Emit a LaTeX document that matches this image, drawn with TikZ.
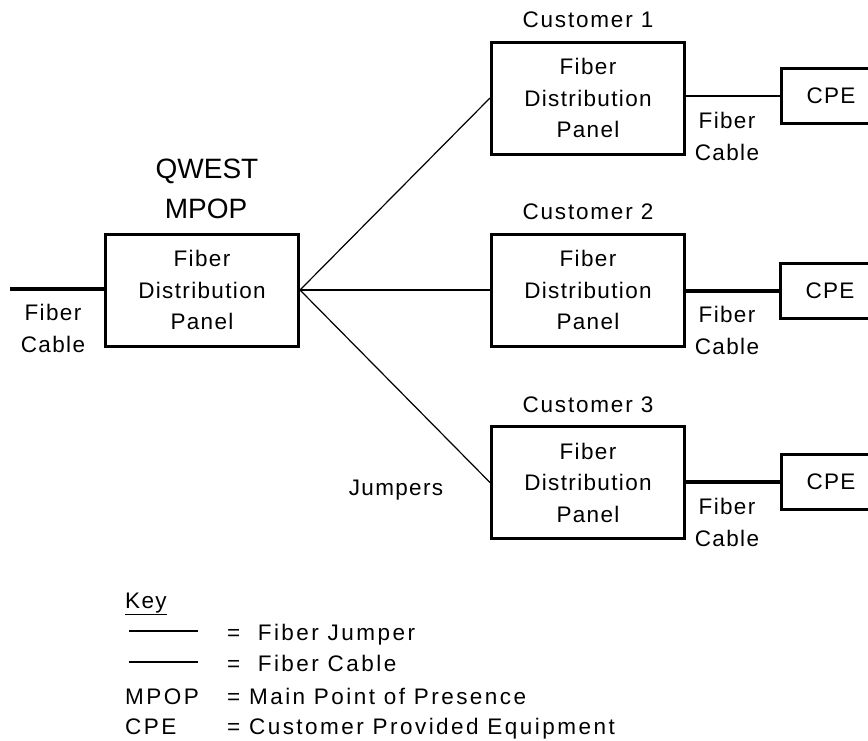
\documentclass[tikz,border=0pt]{standalone}
\usepackage{fontspec}
\setmainfont{Liberation Sans}[LetterSpace=6]
\newfontfamily\titlefont{Liberation Sans}
\newfontfamily\custfont{Liberation Sans}[LetterSpace=8]
\newfontfamily\legfont{Liberation Sans}[LetterSpace=11]
\begin{document}
\begin{tikzpicture}[x=1pt,y=-1pt,
  panel/.style={draw,line width=3pt,minimum width=193pt,minimum height=112pt,inner sep=0pt,align=center,
    font=\fontsize{22.5}{31.5}\selectfont},
  cpebox/.style={draw,line width=3pt,minimum width=100pt,minimum height=55pt,inner sep=0pt,
    font=\fontsize{22.5}{26}\selectfont},
  lbl/.style={inner sep=0pt,font=\fontsize{22.5}{32}\selectfont,align=center},
  custlbl/.style={inner sep=0pt,font=\custfont\fontsize{22.5}{32}\selectfont},
  leglbl/.style={inner sep=0pt,font=\legfont\fontsize{22.5}{32}\selectfont},
  ttl/.style={inner sep=0pt,font=\titlefont\fontsize{28}{40}\selectfont,align=center},
  jumper/.style={line width=1.2pt},
  cable/.style={line width=4pt},
  thincable/.style={line width=2pt}]
\useasboundingbox (0,0) rectangle (868,740);
\begin{scope}
\clip (0,0) rectangle (868,740);
% main panel
\node[panel] (mpop) at (202,290) {Fiber\\Distribution\\Panel};
\node[ttl,anchor=base] (qwest) at (207,178) {QWEST};
\node[ttl,anchor=base] (mpopt) at (206,218) {MPOP};
\coordinate (cin) at (10,289);
\draw[cable] (cin) -- (mpop.west |- cin);
\node[lbl] (lfc) at (53,328) {Fiber\\Cable};
% customer panels
\node[panel] (c1) at (588,98) {Fiber\\Distribution\\Panel};
\node[panel] (c2) at (588,290) {Fiber\\Distribution\\Panel};
\node[panel] (c3) at (588,482.5) {Fiber\\Distribution\\Panel};
\node[custlbl,anchor=base] (c1l) at (588,27) {Customer 1};
\node[custlbl,anchor=base] (c2l) at (588,219) {Customer 2};
\node[custlbl,anchor=base] (c3l) at (588,412) {Customer 3};
% CPE boxes
\node[cpebox] (p1) at (831,96) {CPE};
\node[cpebox] (p2) at (830,290.5) {CPE};
\node[cpebox] (p3) at (831,481.5) {CPE};
% cables to CPE
\draw[thincable] (c1.east |- p1.west) -- (p1.west);
\draw[cable] (c2.east |- p2.west) -- (p2.west);
\draw[cable] (c3.east |- p3.west) -- (p3.west);
\node[lbl] (f1) at (727,136) {Fiber\\Cable};
\node[lbl] (f2) at (727,330) {Fiber\\Cable};
\node[lbl] (f3) at (727,522) {Fiber\\Cable};
% jumpers
\draw[jumper] (mpop.east) -- (c1.west);
\draw[thincable] (mpop.east) -- (c2.west);
\draw[jumper] (mpop.east) -- (c3.west);
\node[lbl,anchor=base] (jl) at (396,495) {Jumpers};
% key
\node[lbl,anchor=base west] (key) at (125,608) {\underline{Key}};
\coordinate (k1a) at (129,631);
\coordinate (k1b) at (198,631);
\coordinate (k2a) at (129,662);
\coordinate (k2b) at (198,662);
\draw[thincable] (k1a) -- (k1b);
\draw[thincable] (k2a) -- (k2b);
\node[leglbl,anchor=base west] (kt1) at (227,640) {= \ Fiber Jumper};
\node[leglbl,anchor=base west] (kt2) at (227,671) {= \ Fiber Cable};
\node[leglbl,anchor=base west] (km) at (125,704) {MPOP};
\node[leglbl,anchor=base west] (kmt) at (227,704) {= Main Point of Presence};
\node[leglbl,anchor=base west] (kc) at (125,734) {CPE};
\node[leglbl,anchor=base west] (kct) at (227,734) {= Customer Provided Equipment};
\end{scope}
\end{tikzpicture}
\end{document}
